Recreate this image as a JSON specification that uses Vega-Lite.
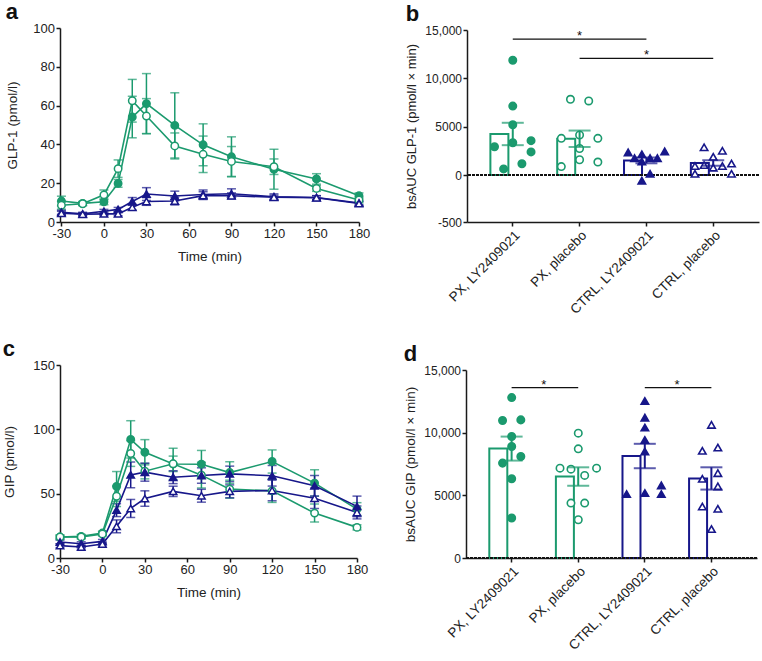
{
  "$schema": "https://vega.github.io/schema/vega-lite/v6.json",
  "padding": {"left": 2, "top": 1, "right": 0, "bottom": 0},
  "config": {
    "font": "Liberation Sans",
    "view": {"stroke": null},
    "axis": {"domainColor": "#1a1a1a", "domainWidth": 1.5, "tickColor": "#1a1a1a", "tickWidth": 1.5, "tickSize": 4, "labelPadding": 1.5, "labelFontSize": 13, "labelColor": "#222", "labelFlush": false, "titleFontSize": 13.5, "titleFontWeight": "normal", "titleColor": "#222", "grid": false},
    "axisX": {"titlePadding": 9},
    "axisY": {"titlePadding": 13},
    "title": {"anchor": "start", "frame": "bounds", "fontSize": 22, "fontWeight": "bold", "color": "#111", "offset": -2}
  },
  "datasets": {
    "glp1": [
      {"group": "PX, LY2409021", "time": -30, "mean": 10.8, "sem": 2.5},
      {"group": "PX, LY2409021", "time": -15, "mean": 9.6, "sem": 1.0},
      {"group": "PX, LY2409021", "time": 0, "mean": 10.4, "sem": 1.5},
      {"group": "PX, LY2409021", "time": 10, "mean": 19.9, "sem": 2.0},
      {"group": "PX, LY2409021", "time": 20, "mean": 54.1, "sem": 10.7},
      {"group": "PX, LY2409021", "time": 30, "mean": 61.0, "sem": 15.5},
      {"group": "PX, LY2409021", "time": 50, "mean": 49.8, "sem": 16.8},
      {"group": "PX, LY2409021", "time": 70, "mean": 39.8, "sem": 10.8},
      {"group": "PX, LY2409021", "time": 90, "mean": 33.6, "sem": 10.3},
      {"group": "PX, LY2409021", "time": 120, "mean": 27.2, "sem": 10.3},
      {"group": "PX, LY2409021", "time": 150, "mean": 22.2, "sem": 2.7},
      {"group": "PX, LY2409021", "time": 180, "mean": 13.5, "sem": 1.5},
      {"group": "PX, placebo", "time": -30, "mean": 8.6, "sem": 2.0},
      {"group": "PX, placebo", "time": -15, "mean": 9.4, "sem": 1.0},
      {"group": "PX, placebo", "time": 0, "mean": 14.0, "sem": 2.5},
      {"group": "PX, placebo", "time": 10, "mean": 27.5, "sem": 4.5},
      {"group": "PX, placebo", "time": 20, "mean": 62.5, "sem": 11.0},
      {"group": "PX, placebo", "time": 30, "mean": 54.6, "sem": 9.0},
      {"group": "PX, placebo", "time": 50, "mean": 39.2, "sem": 6.7},
      {"group": "PX, placebo", "time": 70, "mean": 34.9, "sem": 9.4},
      {"group": "PX, placebo", "time": 90, "mean": 31.2, "sem": 7.7},
      {"group": "PX, placebo", "time": 120, "mean": 28.5, "sem": 4.0},
      {"group": "PX, placebo", "time": 150, "mean": 17.3, "sem": 1.5},
      {"group": "PX, placebo", "time": 180, "mean": 11.3, "sem": 1.5},
      {"group": "CTRL, LY2409021", "time": -30, "mean": 5.0, "sem": 1.0},
      {"group": "CTRL, LY2409021", "time": -15, "mean": 4.2, "sem": 0.8},
      {"group": "CTRL, LY2409021", "time": 0, "mean": 5.5, "sem": 1.0},
      {"group": "CTRL, LY2409021", "time": 10, "mean": 6.5, "sem": 1.0},
      {"group": "CTRL, LY2409021", "time": 20, "mean": 10.6, "sem": 2.0},
      {"group": "CTRL, LY2409021", "time": 30, "mean": 14.4, "sem": 3.3},
      {"group": "CTRL, LY2409021", "time": 50, "mean": 13.4, "sem": 2.5},
      {"group": "CTRL, LY2409021", "time": 70, "mean": 14.2, "sem": 2.3},
      {"group": "CTRL, LY2409021", "time": 90, "mean": 14.6, "sem": 2.5},
      {"group": "CTRL, LY2409021", "time": 120, "mean": 13.0, "sem": 1.5},
      {"group": "CTRL, LY2409021", "time": 150, "mean": 12.6, "sem": 1.0},
      {"group": "CTRL, LY2409021", "time": 180, "mean": 9.8, "sem": 1.0},
      {"group": "CTRL, placebo", "time": -30, "mean": 4.5, "sem": 1.0},
      {"group": "CTRL, placebo", "time": -15, "mean": 4.0, "sem": 0.8},
      {"group": "CTRL, placebo", "time": 0, "mean": 4.2, "sem": 1.0},
      {"group": "CTRL, placebo", "time": 10, "mean": 4.2, "sem": 1.0},
      {"group": "CTRL, placebo", "time": 20, "mean": 7.6, "sem": 1.5},
      {"group": "CTRL, placebo", "time": 30, "mean": 10.6, "sem": 2.0},
      {"group": "CTRL, placebo", "time": 50, "mean": 10.8, "sem": 2.0},
      {"group": "CTRL, placebo", "time": 70, "mean": 13.6, "sem": 2.0},
      {"group": "CTRL, placebo", "time": 90, "mean": 13.5, "sem": 1.5},
      {"group": "CTRL, placebo", "time": 120, "mean": 12.8, "sem": 1.0},
      {"group": "CTRL, placebo", "time": 150, "mean": 12.5, "sem": 1.0},
      {"group": "CTRL, placebo", "time": 180, "mean": 9.5, "sem": 1.0}
    ],
    "gip": [
      {"group": "PX, LY2409021", "time": -30, "mean": 16.3, "sem": 1.5},
      {"group": "PX, LY2409021", "time": -15, "mean": 16.8, "sem": 1.5},
      {"group": "PX, LY2409021", "time": 0, "mean": 19.4, "sem": 1.5},
      {"group": "PX, LY2409021", "time": 10, "mean": 55.6, "sem": 11.6},
      {"group": "PX, LY2409021", "time": 20, "mean": 92.2, "sem": 14.5},
      {"group": "PX, LY2409021", "time": 30, "mean": 82.2, "sem": 9.8},
      {"group": "PX, LY2409021", "time": 50, "mean": 73.1, "sem": 12.2},
      {"group": "PX, LY2409021", "time": 70, "mean": 72.9, "sem": 10.7},
      {"group": "PX, LY2409021", "time": 90, "mean": 66.4, "sem": 8.4},
      {"group": "PX, LY2409021", "time": 120, "mean": 75.0, "sem": 9.0},
      {"group": "PX, LY2409021", "time": 150, "mean": 58.2, "sem": 10.3},
      {"group": "PX, LY2409021", "time": 180, "mean": 38.0, "sem": 5.0},
      {"group": "PX, placebo", "time": -30, "mean": 16.3, "sem": 1.5},
      {"group": "PX, placebo", "time": -15, "mean": 16.3, "sem": 1.5},
      {"group": "PX, placebo", "time": 0, "mean": 18.6, "sem": 1.5},
      {"group": "PX, placebo", "time": 10, "mean": 48.0, "sem": 8.0},
      {"group": "PX, placebo", "time": 20, "mean": 81.2, "sem": 10.0},
      {"group": "PX, placebo", "time": 30, "mean": 67.5, "sem": 6.0},
      {"group": "PX, placebo", "time": 50, "mean": 73.2, "sem": 6.0},
      {"group": "PX, placebo", "time": 70, "mean": 64.4, "sem": 10.0},
      {"group": "PX, placebo", "time": 90, "mean": 53.5, "sem": 7.0},
      {"group": "PX, placebo", "time": 120, "mean": 52.2, "sem": 9.0},
      {"group": "PX, placebo", "time": 150, "mean": 34.9, "sem": 7.0},
      {"group": "PX, placebo", "time": 180, "mean": 23.8, "sem": 2.0},
      {"group": "CTRL, LY2409021", "time": -30, "mean": 12.4, "sem": 1.5},
      {"group": "CTRL, LY2409021", "time": -15, "mean": 11.1, "sem": 1.5},
      {"group": "CTRL, LY2409021", "time": 0, "mean": 12.9, "sem": 1.5},
      {"group": "CTRL, LY2409021", "time": 10, "mean": 37.2, "sem": 5.0},
      {"group": "CTRL, LY2409021", "time": 20, "mean": 64.6, "sem": 10.0},
      {"group": "CTRL, LY2409021", "time": 30, "mean": 66.7, "sem": 7.0},
      {"group": "CTRL, LY2409021", "time": 50, "mean": 62.8, "sem": 5.0},
      {"group": "CTRL, LY2409021", "time": 70, "mean": 64.1, "sem": 6.0},
      {"group": "CTRL, LY2409021", "time": 90, "mean": 65.4, "sem": 6.0},
      {"group": "CTRL, LY2409021", "time": 120, "mean": 63.9, "sem": 8.0},
      {"group": "CTRL, LY2409021", "time": 150, "mean": 56.1, "sem": 8.0},
      {"group": "CTRL, LY2409021", "time": 180, "mean": 40.1, "sem": 8.0},
      {"group": "CTRL, placebo", "time": -30, "mean": 9.6, "sem": 1.5},
      {"group": "CTRL, placebo", "time": -15, "mean": 8.5, "sem": 1.5},
      {"group": "CTRL, placebo", "time": 0, "mean": 10.9, "sem": 1.5},
      {"group": "CTRL, placebo", "time": 10, "mean": 24.6, "sem": 5.0},
      {"group": "CTRL, placebo", "time": 20, "mean": 38.5, "sem": 7.0},
      {"group": "CTRL, placebo", "time": 30, "mean": 46.2, "sem": 6.0},
      {"group": "CTRL, placebo", "time": 50, "mean": 51.8, "sem": 4.0},
      {"group": "CTRL, placebo", "time": 70, "mean": 48.4, "sem": 5.0},
      {"group": "CTRL, placebo", "time": 90, "mean": 51.8, "sem": 5.0},
      {"group": "CTRL, placebo", "time": 120, "mean": 52.5, "sem": 8.0},
      {"group": "CTRL, placebo", "time": 150, "mean": 46.5, "sem": 8.0},
      {"group": "CTRL, placebo", "time": 180, "mean": 35.4, "sem": 5.0}
    ],
    "glp1auc": [
      {"group": "PX, LY2409021", "auc": 11870, "slot": 0},
      {"group": "PX, LY2409021", "auc": 7130, "slot": 0},
      {"group": "PX, LY2409021", "auc": 5200, "slot": 0},
      {"group": "PX, LY2409021", "auc": 3340, "slot": 0},
      {"group": "PX, LY2409021", "auc": 2920, "slot": -2},
      {"group": "PX, LY2409021", "auc": 3550, "slot": 2},
      {"group": "PX, LY2409021", "auc": 2390, "slot": 2},
      {"group": "PX, LY2409021", "auc": 1160, "slot": 1},
      {"group": "PX, LY2409021", "auc": 630, "slot": -1},
      {"group": "PX, placebo", "auc": 7830, "slot": -1},
      {"group": "PX, placebo", "auc": 7660, "slot": 1},
      {"group": "PX, placebo", "auc": 4140, "slot": 0},
      {"group": "PX, placebo", "auc": 3790, "slot": -2},
      {"group": "PX, placebo", "auc": 3790, "slot": 2},
      {"group": "PX, placebo", "auc": 2740, "slot": 0},
      {"group": "PX, placebo", "auc": 1580, "slot": 0},
      {"group": "PX, placebo", "auc": 1340, "slot": 2},
      {"group": "PX, placebo", "auc": 870, "slot": -2},
      {"group": "CTRL, LY2409021", "auc": 2340, "slot": -2},
      {"group": "CTRL, LY2409021", "auc": 1740, "slot": -1.3},
      {"group": "CTRL, LY2409021", "auc": 2140, "slot": -0.5},
      {"group": "CTRL, LY2409021", "auc": 1390, "slot": -0.5},
      {"group": "CTRL, LY2409021", "auc": 1740, "slot": 0.4},
      {"group": "CTRL, LY2409021", "auc": 1740, "slot": 1.2},
      {"group": "CTRL, LY2409021", "auc": 2440, "slot": 2},
      {"group": "CTRL, LY2409021", "auc": 130, "slot": 0.4},
      {"group": "CTRL, LY2409021", "auc": -60, "slot": -0.5},
      {"group": "CTRL, placebo", "auc": 2870, "slot": -1},
      {"group": "CTRL, placebo", "auc": 2510, "slot": 1},
      {"group": "CTRL, placebo", "auc": 1880, "slot": 0},
      {"group": "CTRL, placebo", "auc": 930, "slot": -2},
      {"group": "CTRL, placebo", "auc": 1030, "slot": -1},
      {"group": "CTRL, placebo", "auc": 760, "slot": 0},
      {"group": "CTRL, placebo", "auc": 930, "slot": 1},
      {"group": "CTRL, placebo", "auc": 1180, "slot": 2},
      {"group": "CTRL, placebo", "auc": 130, "slot": -2},
      {"group": "CTRL, placebo", "auc": 130, "slot": 2}
    ],
    "gipauc": [
      {"group": "PX, LY2409021", "auc": 12800, "slot": 0},
      {"group": "PX, LY2409021", "auc": 10970, "slot": -1},
      {"group": "PX, LY2409021", "auc": 11020, "slot": 1},
      {"group": "PX, LY2409021", "auc": 9690, "slot": 0},
      {"group": "PX, LY2409021", "auc": 8900, "slot": 0},
      {"group": "PX, LY2409021", "auc": 8100, "slot": 1},
      {"group": "PX, LY2409021", "auc": 7570, "slot": -1},
      {"group": "PX, LY2409021", "auc": 6320, "slot": 0},
      {"group": "PX, LY2409021", "auc": 3190, "slot": 0},
      {"group": "PX, placebo", "auc": 9960, "slot": 0},
      {"group": "PX, placebo", "auc": 8710, "slot": 0},
      {"group": "PX, placebo", "auc": 7170, "slot": -2},
      {"group": "PX, placebo", "auc": 7090, "slot": -0.8},
      {"group": "PX, placebo", "auc": 7170, "slot": 2},
      {"group": "PX, placebo", "auc": 6590, "slot": 0.7},
      {"group": "PX, placebo", "auc": 4380, "slot": -0.8},
      {"group": "PX, placebo", "auc": 4380, "slot": 0.7},
      {"group": "PX, placebo", "auc": 3050, "slot": 0},
      {"group": "CTRL, LY2409021", "auc": 12530, "slot": 0},
      {"group": "CTRL, LY2409021", "auc": 11200, "slot": 0},
      {"group": "CTRL, LY2409021", "auc": 10410, "slot": 0},
      {"group": "CTRL, LY2409021", "auc": 9420, "slot": 0},
      {"group": "CTRL, LY2409021", "auc": 8500, "slot": 0},
      {"group": "CTRL, LY2409021", "auc": 5100, "slot": -2},
      {"group": "CTRL, LY2409021", "auc": 5180, "slot": 0},
      {"group": "CTRL, LY2409021", "auc": 5790, "slot": 1.8},
      {"group": "CTRL, LY2409021", "auc": 5100, "slot": 1.8},
      {"group": "CTRL, placebo", "auc": 10620, "slot": 0},
      {"group": "CTRL, placebo", "auc": 8550, "slot": -1},
      {"group": "CTRL, placebo", "auc": 8810, "slot": 0.7},
      {"group": "CTRL, placebo", "auc": 6770, "slot": 0.7},
      {"group": "CTRL, placebo", "auc": 6320, "slot": -1},
      {"group": "CTRL, placebo", "auc": 5710, "slot": 0.7},
      {"group": "CTRL, placebo", "auc": 4110, "slot": -1},
      {"group": "CTRL, placebo", "auc": 3930, "slot": 0.7},
      {"group": "CTRL, placebo", "auc": 2310, "slot": 0}
    ]
  },
  "spacing": 22,
  "vconcat": [
    {
      "spacing": 35,
      "hconcat": [
        {
          "title": {"text": "a"},
          "width": 299,
          "height": 194,
          "data": {"name": "glp1"},
          "encoding": {
            "x": {"field": "time", "type": "quantitative", "scale": {"domain": [-31, 180], "nice": false, "zero": false}, "axis": {"values": [-30, 0, 30, 60, 90, 120, 150, 180], "labelExpr": "'' + datum.value", "title": "Time (min)"}},
            "y": {"field": "mean", "type": "quantitative", "title": "GLP-1 (pmol/l)", "scale": {"domain": [0, 100], "nice": false}, "axis": {"values": [0, 20, 40, 60, 80, 100]}}
          },
          "layer": [
            {"data": {"values": [{"meal": 0}]}, "mark": {"type": "rule", "strokeDash": [1.5, 1.5], "strokeWidth": 1.2, "color": "#111"}, "encoding": {"x": {"field": "meal", "type": "quantitative"}, "y": {"datum": 0}, "y2": {"datum": 100}}},
            {"mark": {"type": "errorbar", "ticks": {"size": 9}, "thickness": 1.5}, "encoding": {"yError": {"field": "sem"}, "color": {"field": "group", "type": "nominal", "scale": {"domain": ["PX, LY2409021", "PX, placebo", "CTRL, LY2409021", "CTRL, placebo"], "range": ["#1b9a6e", "#1b9a6e", "#17178a", "#17178a"]}, "legend": null}}},
            {"mark": {"type": "line", "strokeWidth": 1.6}, "encoding": {"color": {"field": "group", "type": "nominal", "legend": null}}},
            {"mark": {"type": "point", "filled": true, "size": 55, "strokeWidth": 1.5, "opacity": 1}, "encoding": {
              "shape": {"field": "group", "type": "nominal", "scale": {"domain": ["PX, LY2409021", "PX, placebo", "CTRL, LY2409021", "CTRL, placebo"], "range": ["circle", "circle", "triangle-up", "triangle-up"]}, "legend": null},
              "fill": {"field": "group", "type": "nominal", "scale": {"domain": ["PX, LY2409021", "PX, placebo", "CTRL, LY2409021", "CTRL, placebo"], "range": ["#1b9a6e", "#ffffff", "#17178a", "#ffffff"]}, "legend": null},
              "stroke": {"field": "group", "type": "nominal", "scale": {"domain": ["PX, LY2409021", "PX, placebo", "CTRL, LY2409021", "CTRL, placebo"], "range": ["#1b9a6e", "#1b9a6e", "#17178a", "#17178a"]}, "legend": null}
            }}
          ]
        },
        {
          "title": {"text": "b"},
          "width": 292,
          "height": 194,
          "layer": [
            {"data": {"name": "glp1auc"}, "mark": {"type": "bar", "filled": false, "strokeWidth": 2},
             "encoding": {
               "x": {"field": "group", "type": "nominal", "title": null, "scale": {"domain": ["PX, LY2409021", "PX, placebo", "CTRL, LY2409021", "CTRL, placebo"], "paddingInner": 0.33, "paddingOuter": 0.35}, "axis": {"labelAngle": -45, "labelFontSize": 13.5, "labelPadding": 2}},
               "y": {"aggregate": "mean", "field": "auc", "type": "quantitative", "title": "bsAUC GLP-1 (pmol/l × min)", "scale": {"domain": [-500, 0, 15000], "range": [194, 147, 2], "nice": false, "zero": false}, "axis": {"values": [-500, 0, 5000, 10000, 15000], "labelExpr": "datum.value >= 10000 ? format(datum.value, ',') : '' + datum.value", "labelFontSize": 12, "titleFontSize": 13, "titlePadding": 6}},
               "color": {"field": "group", "type": "nominal", "legend": null}
             }},
            {"data": {"values": [{"base": 0}]}, "mark": {"type": "rule", "strokeDash": [3, 1], "strokeWidth": 2, "color": "#111"}, "encoding": {"y": {"field": "base", "type": "quantitative", "title": "bsAUC GLP-1 (pmol/l × min)"}}},
            {"data": {"name": "glp1auc"}, "mark": {"type": "point", "filled": true, "size": 55, "strokeWidth": 1.6, "opacity": 1},
             "encoding": {
               "x": {"field": "group", "type": "nominal", "title": null},
               "xOffset": {"field": "slot", "type": "quantitative", "scale": {"domain": [-2.45, 2.45], "nice": false, "zero": false}},
               "y": {"field": "auc", "type": "quantitative", "title": "bsAUC GLP-1 (pmol/l × min)"},
               "shape": {"field": "group", "type": "nominal", "legend": null},
               "fill": {"field": "group", "type": "nominal", "legend": null},
               "stroke": {"field": "group", "type": "nominal", "legend": null}
             }},
            {"data": {"name": "glp1auc"}, "mark": {"type": "errorbar", "extent": "stderr", "ticks": {"size": 22}, "thickness": 2},
             "encoding": {
               "x": {"field": "group", "type": "nominal", "title": null},
               "y": {"field": "auc", "type": "quantitative", "title": "bsAUC GLP-1 (pmol/l × min)"},
               "color": {"field": "group", "type": "nominal", "legend": null}
             }},
            {"data": {"values": [{"level": 14050}]}, "mark": {"type": "rule", "strokeWidth": 1.3, "color": "#111"},
             "encoding": {"x": {"datum": "PX, LY2409021", "bandPosition": 0.5}, "x2": {"datum": "CTRL, LY2409021", "bandPosition": 0.5}, "y": {"field": "level", "type": "quantitative", "title": "bsAUC GLP-1 (pmol/l × min)"}}},
            {"data": {"values": [{"level": 12060}]}, "mark": {"type": "rule", "strokeWidth": 1.3, "color": "#111"},
             "encoding": {"x": {"datum": "PX, placebo", "bandPosition": 0.5}, "x2": {"datum": "CTRL, placebo", "bandPosition": 0.5}, "y": {"field": "level", "type": "quantitative", "title": "bsAUC GLP-1 (pmol/l × min)"}}},
            {"data": {"values": [{"level": 14050}]}, "mark": {"type": "text", "text": "*", "fontSize": 13, "baseline": "alphabetic", "dy": 1, "color": "#111"},
             "encoding": {"x": {"datum": "PX, placebo", "bandPosition": 0.5}, "y": {"field": "level", "type": "quantitative", "title": "bsAUC GLP-1 (pmol/l × min)"}}},
            {"data": {"values": [{"level": 12060}]}, "mark": {"type": "text", "text": "*", "fontSize": 13, "baseline": "alphabetic", "dy": 1, "color": "#111"},
             "encoding": {"x": {"datum": "CTRL, LY2409021", "bandPosition": 0.5}, "y": {"field": "level", "type": "quantitative", "title": "bsAUC GLP-1 (pmol/l × min)"}}}
          ]
        }
      ]
    },
    {
      "spacing": 35,
      "hconcat": [
        {
          "title": {"text": "c"},
          "width": 297,
          "height": 193,
          "data": {"name": "gip"},
          "encoding": {
            "x": {"field": "time", "type": "quantitative", "scale": {"domain": [-30, 180], "nice": false, "zero": false}, "axis": {"values": [-30, 0, 30, 60, 90, 120, 150, 180], "labelExpr": "'' + datum.value", "title": "Time (min)"}},
            "y": {"field": "mean", "type": "quantitative", "title": "GIP (pmol/l)", "scale": {"domain": [0, 150], "nice": false}, "axis": {"values": [0, 50, 100, 150], "titlePadding": 16}}
          },
          "layer": [
            {"data": {"values": [{"meal": 0}]}, "mark": {"type": "rule", "strokeDash": [1.5, 1.5], "strokeWidth": 1.2, "color": "#111"}, "encoding": {"x": {"field": "meal", "type": "quantitative"}, "y": {"datum": 0}, "y2": {"datum": 150}}},
            {"mark": {"type": "errorbar", "ticks": {"size": 9}, "thickness": 1.5}, "encoding": {"yError": {"field": "sem"}, "color": {"field": "group", "type": "nominal", "legend": null}}},
            {"mark": {"type": "line", "strokeWidth": 1.6}, "encoding": {"color": {"field": "group", "type": "nominal", "legend": null}}},
            {"mark": {"type": "point", "filled": true, "size": 55, "strokeWidth": 1.5, "opacity": 1}, "encoding": {
              "shape": {"field": "group", "type": "nominal", "legend": null},
              "fill": {"field": "group", "type": "nominal", "legend": null},
              "stroke": {"field": "group", "type": "nominal", "legend": null}
            }}
          ]
        },
        {
          "title": {"text": "d"},
          "width": 291,
          "height": 193,
          "layer": [
            {"data": {"name": "gipauc"}, "mark": {"type": "bar", "filled": false, "strokeWidth": 2},
             "encoding": {
               "x": {"field": "group", "type": "nominal", "title": null, "scale": {"domain": ["PX, LY2409021", "PX, placebo", "CTRL, LY2409021", "CTRL, placebo"], "paddingInner": 0.33, "paddingOuter": 0.35}, "axis": {"labelAngle": -45, "labelFontSize": 13.5, "labelPadding": 2}},
               "y": {"aggregate": "mean", "field": "auc", "type": "quantitative", "title": "bsAUC GIP (pmol/l × min)", "scale": {"domain": [0, 15000], "range": [193, 5], "nice": false, "zero": false}, "axis": {"values": [0, 5000, 10000, 15000], "labelExpr": "datum.value >= 10000 ? format(datum.value, ',') : '' + datum.value", "labelFontSize": 12, "titleFontSize": 13.5, "titlePadding": 6}},
               "color": {"field": "group", "type": "nominal", "legend": null}
             }},
            {"data": {"values": [{"base": 0}]}, "mark": {"type": "rule", "strokeDash": [3, 1], "strokeWidth": 2, "color": "#111"}, "encoding": {"y": {"field": "base", "type": "quantitative", "title": "bsAUC GIP (pmol/l × min)"}}},
            {"data": {"name": "gipauc"}, "mark": {"type": "point", "filled": true, "size": 55, "strokeWidth": 1.6, "opacity": 1},
             "encoding": {
               "x": {"field": "group", "type": "nominal", "title": null},
               "xOffset": {"field": "slot", "type": "quantitative", "scale": {"domain": [-2.45, 2.45], "nice": false, "zero": false}},
               "y": {"field": "auc", "type": "quantitative", "title": "bsAUC GIP (pmol/l × min)"},
               "shape": {"field": "group", "type": "nominal", "legend": null},
               "fill": {"field": "group", "type": "nominal", "legend": null},
               "stroke": {"field": "group", "type": "nominal", "legend": null}
             }},
            {"data": {"name": "gipauc"}, "mark": {"type": "errorbar", "extent": "stderr", "ticks": {"size": 22}, "thickness": 2},
             "encoding": {
               "x": {"field": "group", "type": "nominal", "title": null},
               "y": {"field": "auc", "type": "quantitative", "title": "bsAUC GIP (pmol/l × min)"},
               "color": {"field": "group", "type": "nominal", "legend": null}
             }},
            {"data": {"values": [{"level": 13600}]}, "mark": {"type": "rule", "strokeWidth": 1.3, "color": "#111"},
             "encoding": {"x": {"datum": "PX, LY2409021", "bandPosition": 0.5}, "x2": {"datum": "PX, placebo", "bandPosition": 0.5}, "y": {"field": "level", "type": "quantitative", "title": "bsAUC GIP (pmol/l × min)"}}},
            {"data": {"values": [{"level": 13600}]}, "mark": {"type": "rule", "strokeWidth": 1.3, "color": "#111"},
             "encoding": {"x": {"datum": "CTRL, LY2409021", "bandPosition": 0.5}, "x2": {"datum": "CTRL, placebo", "bandPosition": 0.5}, "y": {"field": "level", "type": "quantitative", "title": "bsAUC GIP (pmol/l × min)"}}},
            {"data": {"values": [{"level": 13600}]}, "mark": {"type": "text", "text": "*", "fontSize": 13, "baseline": "alphabetic", "dy": 1, "color": "#111"},
             "encoding": {"x": {"datum": "PX, LY2409021", "bandPosition": 1.22}, "y": {"field": "level", "type": "quantitative", "title": "bsAUC GIP (pmol/l × min)"}}},
            {"data": {"values": [{"level": 13600}]}, "mark": {"type": "text", "text": "*", "fontSize": 13, "baseline": "alphabetic", "dy": 1, "color": "#111"},
             "encoding": {"x": {"datum": "CTRL, LY2409021", "bandPosition": 1.22}, "y": {"field": "level", "type": "quantitative", "title": "bsAUC GIP (pmol/l × min)"}}}
          ]
        }
      ]
    }
  ]
}
